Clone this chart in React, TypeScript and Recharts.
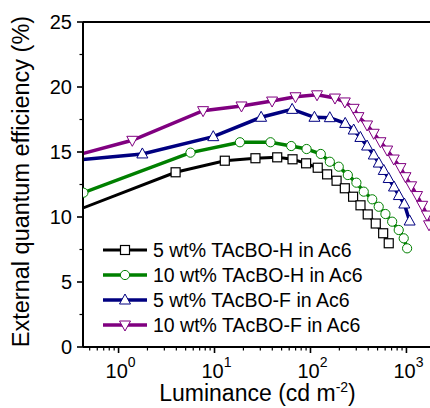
import { LineChart, Line, XAxis, YAxis, ReferenceLine, Legend, Label } from 'recharts'

// luminance (cd m-2) and EQE (%) per device
const h5Lum = [0.35, 3.93, 12.8, 26.7, 45, 65, 90, 119, 149, 187, 228, 278, 332, 395, 479, 572, 654]
const h5Eqe = [10.45, 13.44, 14.33, 14.52, 14.59, 14.44, 14.13, 13.79, 13.28, 12.79, 12.21, 11.56, 10.9, 10.2, 9.5, 8.75, 7.98]

const h10Lum = [0.43, 5.62, 18.4, 38.3, 63, 91, 128, 159, 197, 245, 301, 359, 440, 514, 604, 710, 831, 937, 1016]
const h10Eqe = [11.87, 14.95, 15.75, 15.75, 15.46, 15.23, 14.85, 14.25, 13.87, 13.23, 12.64, 11.95, 11.36, 10.79, 10.23, 9.64, 9.0, 8.36, 7.59]

const f5Lum = [0.35, 1.77, 9.7, 30.6, 64.4, 110, 159, 230, 282, 331, 389, 457, 515, 580, 653, 742, 834, 950, 1080]
const f5Eqe = [14.37, 14.85, 16.18, 17.67, 18.28, 17.67, 17.64, 17.2, 16.69, 16.12, 15.46, 14.77, 14.15, 13.58, 12.96, 12.31, 11.65, 11.0, 9.69]

const f10Lum = [0.35, 1.39, 7.6, 19.1, 39.8, 69.8, 117, 180, 228, 282, 316, 389, 456, 536, 630, 738, 866, 977, 1120, 1290, 1460, 1640, 1720]
const f10Eqe = [14.72, 15.9, 18.18, 18.54, 18.92, 19.25, 19.4, 19.15, 18.85, 18.36, 17.72, 17.08, 16.44, 15.79, 15.15, 14.46, 13.8, 13.1, 12.4, 11.65, 10.9, 10.15, 9.4]

const seriesNames = [
  '5 wt% TAcBO-H in Ac6',
  '10 wt% TAcBO-H in Ac6',
  '5 wt% TAcBO-F in Ac6',
  '10 wt% TAcBO-F in Ac6',
]

const xMajorTicks = [1, 10, 100, 1000]
const xMinorTicks = [
  0.5, 0.6, 0.7, 0.8, 0.9,
  2, 3, 4, 5, 6, 7, 8, 9,
  20, 30, 40, 50, 60, 70, 80, 90,
  200, 300, 400, 500, 600, 700, 800, 900,
]
const yTicks = [0, 2.5, 5, 7.5, 10, 12.5, 15, 17.5, 20, 22.5, 25]

const FONT = '"Liberation Sans", Arial, sans-serif'

type MarkerKind = 'square' | 'circle' | 'up' | 'down'

const toPoints = (lum: number[], eqe: number[]) => lum.map((x, i) => ({ lum: x, eqe: eqe[i] }))

const SERIES: { name: string; color: string; marker: MarkerKind; width: number; data: { lum: number; eqe: number }[] }[] = [
  { name: seriesNames[0], color: '#000000', marker: 'square', width: 3, data: toPoints(h5Lum, h5Eqe) },
  { name: seriesNames[1], color: '#008000', marker: 'circle', width: 3.5, data: toPoints(h10Lum, h10Eqe) },
  { name: seriesNames[2], color: '#000080', marker: 'up', width: 3.5, data: toPoints(f5Lum, f5Eqe) },
  { name: seriesNames[3], color: '#800080', marker: 'down', width: 3.5, data: toPoints(f10Lum, f10Eqe) },
]

function Marker({ kind, cx, cy, color }: { kind: MarkerKind; cx: number; cy: number; color: string }) {
  if (kind === 'square') {
    return <rect x={cx - 4.5} y={cy - 4.5} width={9} height={9} fill="#fff" stroke={color} strokeWidth={1.2} />
  }
  if (kind === 'circle') {
    return <circle cx={cx} cy={cy} r={4.6} fill="#fff" stroke={color} strokeWidth={1} />
  }
  if (kind === 'up') {
    return (
      <polygon
        points={`${cx},${cy - 6} ${cx + 5.5},${cy + 4} ${cx - 5.5},${cy + 4}`}
        fill="#fff"
        stroke={color}
        strokeWidth={1}
      />
    )
  }
  return (
    <polygon
      points={`${cx},${cy + 6} ${cx + 5.5},${cy - 4} ${cx - 5.5},${cy - 4}`}
      fill="#fff"
      stroke={color}
      strokeWidth={1}
    />
  )
}

function XTick({ x, y, payload }: any) {
  const v = payload.value as number
  const major = xMajorTicks.includes(v)
  return (
    <g>
      <line x1={x} x2={x} y1={y} y2={y + (major ? 6 : 3.5)} stroke="#000" strokeWidth={major ? 1.6 : 1.2} />
      {major && (
        <text x={x + 2} y={y + 31} textAnchor="middle" fontSize={20} fontFamily={FONT} fill="#000">
          10
          <tspan dy={-11} fontSize={14}>
            {Math.round(Math.log10(v))}
          </tspan>
        </text>
      )}
    </g>
  )
}

function YTick({ x, y, payload }: any) {
  const v = payload.value as number
  const major = v % 5 === 0
  return (
    <g>
      <line x1={x} x2={x - (major ? 6 : 3.5)} y1={y} y2={y} stroke="#000" strokeWidth={major ? 1.6 : 1.2} />
      {major && (
        <text x={x - 11} y={y} dy="0.36em" textAnchor="end" fontSize={20} fontFamily={FONT} fill="#000">
          {v}
        </text>
      )}
    </g>
  )
}

function XTitle({ viewBox }: any) {
  const { x, y, width } = viewBox
  return (
    <text x={x + width / 2 + 1} y={y + 54} textAnchor="middle" fontSize={23} fontFamily={FONT} fill="#000">
      Luminance (cd m
      <tspan dy={-9} fontSize={14}>
        -2
      </tspan>
      <tspan dy={9}>)</tspan>
    </text>
  )
}

function YTitle({ viewBox }: any) {
  const { y, height } = viewBox
  const cx = 29
  const cy = y + height / 2 - 3
  return (
    <text
      x={cx}
      y={cy}
      transform={`rotate(-90, ${cx}, ${cy})`}
      textAnchor="middle"
      fontSize={23.5}
      fontFamily={FONT}
      fill="#000"
    >
      External quantum efficiency (%)
    </text>
  )
}

function LegendBox() {
  return (
    <svg width={270} height={100} style={{ display: 'block' }}>
      {SERIES.map((s, i) => {
        const cy = 12 + i * 25
        return (
          <g key={s.name}>
            <line x1={3} x2={47} y1={cy} y2={cy} stroke={s.color} strokeWidth={s.width} />
            <Marker kind={s.marker} cx={25} cy={cy} color={s.color} />
            <text x={53} y={cy} dy="0.36em" fontSize={19.5} fontFamily={FONT} fill="#000">
              {s.name}
            </text>
          </g>
        )
      })}
    </svg>
  )
}

export default function App() {
  return (
    <div style={{ position: 'absolute', left: 0, top: 0, background: '#fff' }}>
      <LineChart width={430} height={408} margin={{ top: 22, right: 0, left: 0, bottom: 0 }}>
        <XAxis
          dataKey="lum"
          type="number"
          scale="log"
          domain={[0.426, 1760]}
          allowDataOverflow
          ticks={[...xMajorTicks, ...xMinorTicks]}
          interval={0}
          height={61}
          tickSize={0}
          tickMargin={0}
          tickLine={false}
          axisLine={{ stroke: '#000', strokeWidth: 2 }}
          tick={XTick}
        >
          <Label content={XTitle} />
        </XAxis>
        <YAxis
          type="number"
          domain={[0, 25]}
          allowDataOverflow
          ticks={yTicks}
          interval={0}
          width={83}
          tickSize={0}
          tickMargin={0}
          tickLine={false}
          axisLine={{ stroke: '#000', strokeWidth: 2 }}
          tick={YTick}
        >
          <Label content={YTitle} />
        </YAxis>
        <ReferenceLine y={25} stroke="#000" strokeWidth={2} />
        {SERIES.map((s) => (
          <Line
            key={s.name}
            data={s.data}
            dataKey="eqe"
            name={s.name}
            type="linear"
            stroke={s.color}
            strokeWidth={s.width}
            isAnimationActive={false}
            dot={(p: any) => (
              <Marker key={`${s.name}-${p.index}`} kind={s.marker} cx={p.cx} cy={p.cy} color={s.color} />
            )}
          />
        ))}
        <Legend
          layout="vertical"
          align="center"
          verticalAlign="middle"
          wrapperStyle={{ left: 100, top: 238, width: 270 }}
          content={() => <LegendBox />}
        />
      </LineChart>
    </div>
  )
}
